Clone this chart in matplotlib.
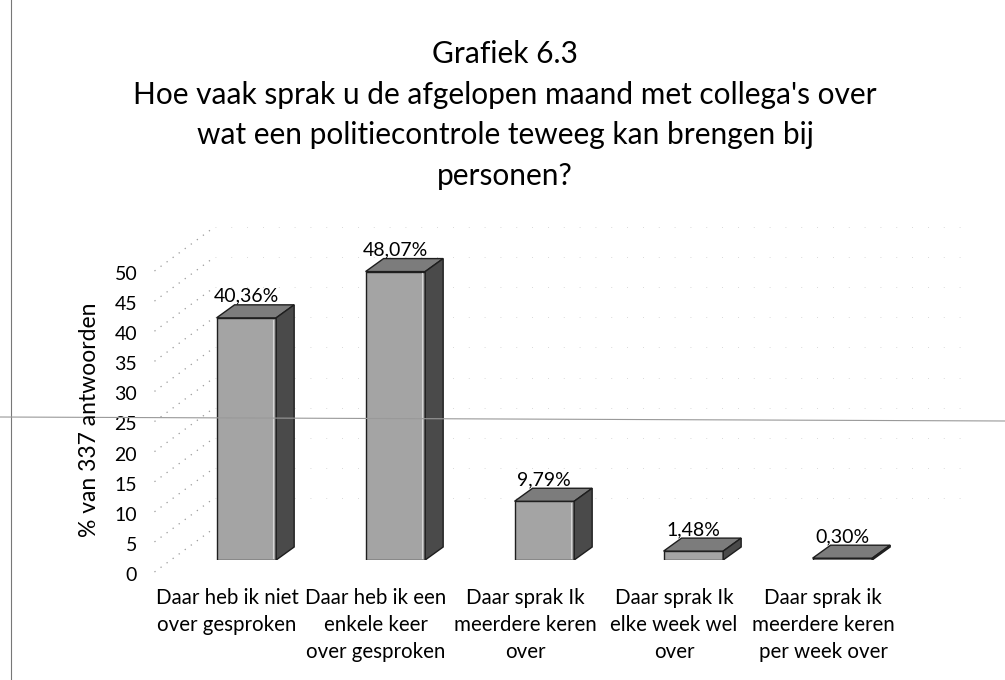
import numpy as np
import matplotlib
matplotlib.use("Agg")
import matplotlib.pyplot as plt
from matplotlib.patches import Polygon
from matplotlib.lines import Line2D

# ---------------------------------------------------------------- data
categories = [
    "Daar heb ik niet\nover gesproken",
    "Daar heb ik een\nenkele keer\nover gesproken",
    "Daar sprak Ik\nmeerdere keren\nover",
    "Daar sprak Ik\nelke week wel\nover",
    "Daar sprak ik\nmeerdere keren\nper week over",
]
values = [40.36, 48.07, 9.79, 1.48, 0.30]
value_labels = ["40,36%", "48,07%", "9,79%", "1,48%", "0,30%"]
yticks = [0, 5, 10, 15, 20, 25, 30, 35, 40, 45, 50]

title = ("Grafiek 6.3\nHoe vaak sprak u de afgelopen maand met collega's over\n"
         "wat een politiecontrole teweeg kan brengen bij\npersonen?")
ylabel = "% van 337 antwoorden"

# ---------------------------------------------------------------- style
plt.rcParams["font.family"] = ["Lato", "DejaVu Sans"]
W, H = 1005, 680
C_FRONT = "#a4a4a4"
C_TOP = "#7c7c7c"
C_SIDE = "#4a4a4a"
C_EDGE = "#1e1e1e"
C_GRID = "#9a9a9a"

fig = plt.figure(figsize=(W / 100, H / 100), dpi=100)

# front axis (tick scale): 0 at y=574 px, 50 at y=273 px
ax = fig.add_axes([152.5 / W, (H - 574) / H, 745 / W, 301 / H])
ax.set_xlim(-0.5, 4.5)
ax.set_ylim(0, 50)
ax.set_yticks(yticks)
ax.set_yticklabels([str(t) for t in yticks], fontsize=14)
ax.tick_params(axis="y", length=0, pad=11)
ax.set_xticks(range(len(categories)))
ax.set_xticklabels(categories, fontsize=14.8, linespacing=1.45, va="top")
ax.tick_params(axis="x", length=0, pad=10)
for s in ax.spines.values():
    s.set_visible(False)
ax.patch.set_alpha(0)

# bar axis (further back in the 3D box): 0 at y=560 px, 6.0 px per unit
PX_Y = 6.0
axb = fig.add_axes([152.5 / W, (H - 560) / H, 745 / W, 52 * PX_Y / H])
axb.set_xlim(-0.5, 4.5)
axb.set_ylim(0, 52)
axb.set_xticks([])
axb.set_yticks([])
for s in axb.spines.values():
    s.set_visible(False)
axb.patch.set_alpha(0)

# depth of the bars in data units (18 px right, 13 px up)
ddx, ddy = 18 / (745 / 5.0), 13 / PX_Y
shift, bw = 0.13, 0.40

xs = np.arange(len(values)) + shift
axb.bar(xs, values, width=bw, color=C_FRONT, edgecolor=C_EDGE, linewidth=1.0, zorder=3)
for x, v, lab in zip(xs, values, value_labels):
    x0, x1 = x - bw / 2, x + bw / 2
    axb.add_patch(Polygon([(x0, v), (x1, v), (x1 + ddx, v + ddy), (x0 + ddx, v + ddy)],
                          closed=True, facecolor=C_TOP, edgecolor=C_EDGE, lw=1.0, zorder=3))
    axb.add_patch(Polygon([(x1, 0), (x1 + ddx, ddy), (x1 + ddx, v + ddy), (x1, v)],
                          closed=True, facecolor=C_SIDE, edgecolor=C_EDGE, lw=1.0, zorder=3))
    # thin highlight on the front face
    if v > 3:
        axb.plot([x1 - 0.02, x1 - 0.02], [0.3, v - 0.3], color="#d6d6d6", lw=0.8, zorder=4)
    axb.annotate(lab, xy=(x, v + ddy), xytext=(0, 0), textcoords="offset points",
                 ha="center", va="bottom", fontsize=14, zorder=5)

# faint dotted gridlines: left side wall (diagonals) and back wall
fig.canvas.draw()
inv = fig.transFigure.inverted()
for t in yticks:
    fx, fy = ax.transData.transform((-0.5, t))
    p0 = inv.transform((fx + 2, fy + 2))
    p1 = inv.transform((fx + 62, fy + 46))
    fig.add_artist(Line2D([p0[0], p1[0]], [p0[1], p1[1]], ls=(0, (1, 5)),
                          lw=0.9, color=C_GRID, zorder=0))
    if t > 0:
        q1 = inv.transform((960, fy + 46))
        fig.add_artist(Line2D([p1[0], q1[0]], [p1[1], q1[1]], ls=(0, (1, 18)),
                              lw=0.6, color="#cdcdcd", zorder=0))

# scan artefacts: page edge and a faint horizontal line
fig.add_artist(Line2D([11 / W, 11 / W], [0, 1], lw=0.8, color="#777777"))
fig.add_artist(Line2D([0, 1], [(H - 417) / H, (H - 421) / H], lw=0.8, color="#999999"))

fig.text(505 / W, (H - 40) / H, title, ha="center", va="top", fontsize=21.5,
         linespacing=1.55)
fig.text(90 / W, (H - 420) / H, ylabel, rotation=90, ha="center", va="center",
         fontsize=16.5)

fig.savefig("out.png", dpi=100)
